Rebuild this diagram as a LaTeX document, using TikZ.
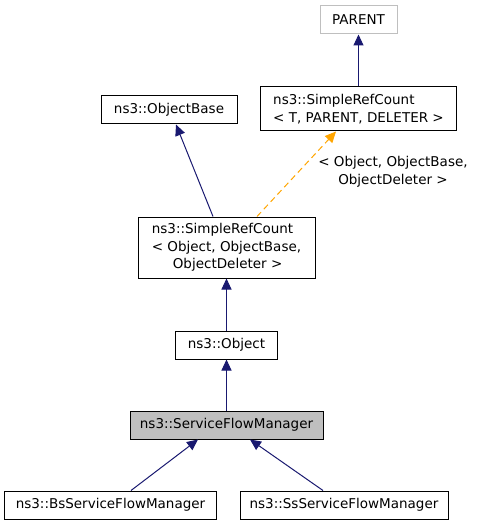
\documentclass[tikz,border=0pt]{standalone}
\usepackage{fontspec}
\setmainfont{DejaVu Sans}
\usetikzlibrary{arrows.meta}
\definecolor{navy}{HTML}{191970}
\definecolor{orng}{HTML}{FFA500}
\definecolor{gborder}{HTML}{BFBFBF}
\definecolor{gfill}{HTML}{BFBFBF}
\tikzset{
  cls/.style={draw=black, line width=1bp, rectangle, inner sep=0pt, fill=white, font=\fontsize{13.5bp}{17.5bp}\selectfont},
  edge/.style={draw=navy, line width=1bp, -{Triangle[length=11bp,width=10bp]}},
  tedge/.style={draw=orng, line width=1bp, dash pattern=on 6bp off 4bp, -{Triangle[length=11bp,width=10bp]}},
  lbl/.style={font=\fontsize{13.5bp}{17.5bp}\selectfont, align=center, inner sep=0pt}
}
\begin{document}
\begin{tikzpicture}[x=1bp,y=-1bp]
\useasboundingbox (0,0) rectangle (477,525);
\node[cls, draw=gborder, minimum width=77bp, minimum height=28bp] (parent) at (358.5,20) {PARENT};
\node[cls, minimum width=196bp, minimum height=44bp, align=left] (src) at (358.5,109) {ns3::SimpleRefCount\\< T, PARENT, DELETER >};
\node[cls, minimum width=136bp, minimum height=28bp] (ob) at (169,110) {ns3::ObjectBase};
\node[cls, minimum width=177bp, minimum height=61bp, align=left] (sro) at (226.5,247.5) {ns3::SimpleRefCount\\< Object, ObjectBase,\\\hspace*{21bp}ObjectDeleter >};
\node[cls, minimum width=102bp, minimum height=28bp] (obj) at (226.5,345) {ns3::Object};
\node[cls, fill=gfill, minimum width=193bp, minimum height=28bp] (sfm) at (226.5,425) {ns3::ServiceFlowManager};
\node[cls, minimum width=211bp, minimum height=28bp] (bs) at (110.5,505) {ns3::BsServiceFlowManager};
\node[cls, minimum width=208bp, minimum height=28bp] (ss) at (344,505) {ns3::SsServiceFlowManager};
\node[lbl] (tl) at (393,172) {< Object, ObjectBase,\\ObjectDeleter >};
\draw[edge] (src.north) -- (parent.south);
\draw[edge] ([xshift=-13.5bp]sro.north) -- ([xshift=7bp]ob.south);
\draw[tedge] ([xshift=30.5bp]sro.north) -- ([xshift=-22.5bp]src.south);
\draw[edge] (obj.north) -- (sro.south);
\draw[edge] (sfm.north) -- (obj.south);
\draw[edge] ([xshift=20.5bp]bs.north) -- ([xshift=-28.5bp]sfm.south);
\draw[edge] ([xshift=-21bp]ss.north) -- ([xshift=23.5bp]sfm.south);
\end{tikzpicture}
\end{document}
